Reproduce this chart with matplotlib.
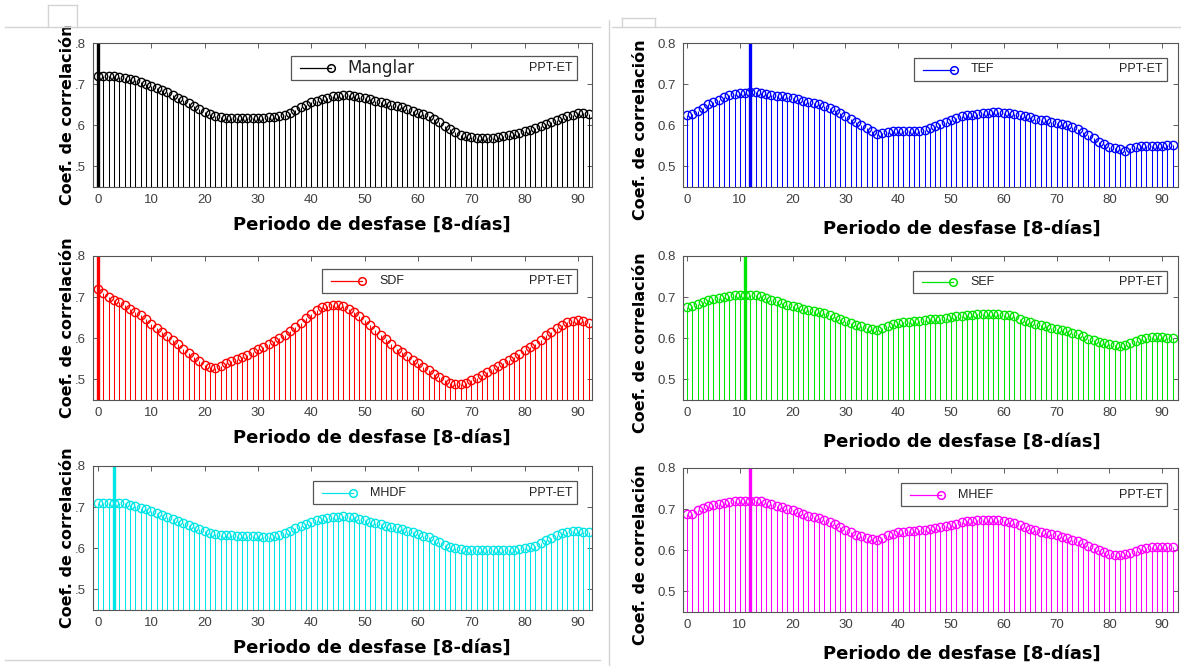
import numpy as np
import matplotlib
matplotlib.use("Agg")
import matplotlib.pyplot as plt
from matplotlib.lines import Line2D
from matplotlib.patches import Rectangle

# cross-correlation PPT-ET per land cover, lag in 8-day periods
lags = list(range(93))

manglar = [0.721, 0.721, 0.720, 0.719, 0.718, 0.715, 0.712, 0.709, 0.706, 0.701,
           0.696, 0.691, 0.686, 0.680, 0.673, 0.667, 0.661, 0.655, 0.648, 0.640,
           0.633, 0.627, 0.622, 0.619, 0.618, 0.618, 0.618, 0.618, 0.618, 0.618,
           0.618, 0.618, 0.619, 0.620, 0.622, 0.626, 0.630, 0.637, 0.644, 0.650,
           0.656, 0.660, 0.664, 0.667, 0.670, 0.672, 0.673, 0.673, 0.672, 0.669,
           0.666, 0.663, 0.660, 0.656, 0.653, 0.650, 0.648, 0.644, 0.640, 0.635,
           0.631, 0.627, 0.622, 0.615, 0.607, 0.599, 0.591, 0.584, 0.577, 0.573,
           0.571, 0.570, 0.570, 0.570, 0.569, 0.572, 0.575, 0.577, 0.579, 0.582,
           0.585, 0.589, 0.593, 0.598, 0.603, 0.608, 0.613, 0.618, 0.622, 0.626,
           0.630, 0.631, 0.627]

sdf = [0.719, 0.710, 0.701, 0.694, 0.688, 0.680, 0.672, 0.664, 0.656, 0.646,
       0.635, 0.625, 0.615, 0.605, 0.595, 0.585, 0.575, 0.565, 0.555, 0.545,
       0.536, 0.529, 0.527, 0.532, 0.539, 0.544, 0.549, 0.555, 0.560, 0.567,
       0.573, 0.580, 0.587, 0.594, 0.601, 0.609, 0.617, 0.627, 0.638, 0.649,
       0.660, 0.669, 0.676, 0.679, 0.680, 0.680, 0.678, 0.672, 0.665, 0.655,
       0.644, 0.632, 0.619, 0.608, 0.598, 0.586, 0.575, 0.566, 0.557, 0.548,
       0.539, 0.531, 0.523, 0.514, 0.506, 0.498, 0.492, 0.488, 0.488, 0.492,
       0.498, 0.504, 0.510, 0.518, 0.525, 0.532, 0.539, 0.547, 0.555, 0.563,
       0.571, 0.579, 0.587, 0.597, 0.607, 0.616, 0.625, 0.633, 0.640, 0.643,
       0.645, 0.642, 0.636]

mhdf = [0.709, 0.710, 0.710, 0.711, 0.711, 0.709, 0.706, 0.703, 0.699, 0.695,
        0.691, 0.686, 0.681, 0.676, 0.671, 0.666, 0.661, 0.656, 0.651, 0.646,
        0.641, 0.637, 0.635, 0.633, 0.632, 0.632, 0.631, 0.631, 0.631, 0.630,
        0.629, 0.628, 0.628, 0.629, 0.632, 0.637, 0.643, 0.649, 0.655, 0.660,
        0.665, 0.668, 0.671, 0.673, 0.675, 0.677, 0.679, 0.677, 0.675, 0.672,
        0.669, 0.665, 0.661, 0.658, 0.655, 0.652, 0.649, 0.646, 0.643, 0.639,
        0.635, 0.631, 0.627, 0.621, 0.615, 0.609, 0.604, 0.600, 0.598, 0.597,
        0.597, 0.596, 0.596, 0.596, 0.596, 0.596, 0.596, 0.596, 0.597, 0.598,
        0.600, 0.603, 0.606, 0.612, 0.619, 0.626, 0.632, 0.637, 0.640, 0.641,
        0.641, 0.640, 0.639]

tef = [0.624, 0.627, 0.634, 0.643, 0.651, 0.656, 0.662, 0.668, 0.673, 0.676,
       0.678, 0.679, 0.680, 0.680, 0.678, 0.676, 0.674, 0.672, 0.670, 0.668,
       0.666, 0.663, 0.660, 0.657, 0.654, 0.651, 0.647, 0.642, 0.636, 0.629,
       0.622, 0.615, 0.608, 0.601, 0.594, 0.585, 0.578, 0.582, 0.584, 0.585,
       0.586, 0.586, 0.586, 0.586, 0.586, 0.589, 0.593, 0.598, 0.603, 0.609,
       0.614, 0.618, 0.622, 0.624, 0.626, 0.628, 0.630, 0.631, 0.632, 0.632,
       0.631, 0.630, 0.628, 0.625, 0.622, 0.619, 0.616, 0.614, 0.612, 0.609,
       0.606, 0.603, 0.600, 0.595, 0.590, 0.583, 0.576, 0.568, 0.560, 0.554,
       0.548, 0.545, 0.542, 0.538, 0.544, 0.547, 0.549, 0.550, 0.550, 0.550,
       0.550, 0.551, 0.553]

sef = [0.676, 0.678, 0.683, 0.688, 0.692, 0.695, 0.698, 0.700, 0.702, 0.704,
       0.706, 0.706, 0.705, 0.704, 0.702, 0.698, 0.694, 0.690, 0.686, 0.682,
       0.678, 0.675, 0.672, 0.669, 0.666, 0.664, 0.661, 0.657, 0.652, 0.647,
       0.642, 0.637, 0.632, 0.629, 0.626, 0.623, 0.621, 0.626, 0.630, 0.634,
       0.637, 0.639, 0.640, 0.641, 0.642, 0.644, 0.646, 0.647, 0.648, 0.650,
       0.652, 0.653, 0.654, 0.656, 0.657, 0.658, 0.658, 0.658, 0.658, 0.658,
       0.657, 0.656, 0.653, 0.648, 0.643, 0.639, 0.635, 0.632, 0.629, 0.626,
       0.623, 0.620, 0.617, 0.614, 0.611, 0.605, 0.599, 0.595, 0.591, 0.588,
       0.585, 0.583, 0.582, 0.584, 0.589, 0.594, 0.598, 0.600, 0.602, 0.602,
       0.602, 0.601, 0.600]

mhef = [0.687, 0.689, 0.697, 0.702, 0.707, 0.710, 0.713, 0.715, 0.717, 0.719,
        0.721, 0.721, 0.721, 0.720, 0.719, 0.716, 0.713, 0.708, 0.704, 0.700,
        0.697, 0.692, 0.688, 0.684, 0.681, 0.678, 0.674, 0.669, 0.664, 0.657,
        0.650, 0.644, 0.638, 0.634, 0.630, 0.627, 0.626, 0.631, 0.636, 0.640,
        0.644, 0.645, 0.646, 0.648, 0.649, 0.650, 0.652, 0.655, 0.657, 0.660,
        0.662, 0.665, 0.668, 0.670, 0.672, 0.673, 0.673, 0.673, 0.673, 0.673,
        0.672, 0.669, 0.666, 0.661, 0.656, 0.652, 0.649, 0.645, 0.642, 0.639,
        0.636, 0.633, 0.630, 0.626, 0.622, 0.617, 0.611, 0.605, 0.600, 0.595,
        0.591, 0.589, 0.588, 0.590, 0.594, 0.598, 0.602, 0.605, 0.607, 0.608,
        0.608, 0.608, 0.607]

names     = ["Manglar", "SDF", "MHDF", "TEF", "SEF", "MHEF"]
series    = [manglar, sdf, mhdf, tef, sef, mhef]
peak_lags = [0, 0, 3, 12, 11, 12]
colors    = ["#000000", "#ff0000", "#00e6e6", "#0000ff", "#00e600", "#ff00ff"]

xticks = [0, 10, 20, 30, 40, 50, 60, 70, 80, 90]
yticks = [0.5, 0.6, 0.7, 0.8]
ytick_labels_left  = [".5", ".6", ".7", ".8"]
ytick_labels_right = ["0.5", "0.6", "0.7", "0.8"]

legend_tag = "PPT-ET"
xlabel = "Periodo de desfase [8-días]"
ylabel = "Coef. de correlación"

W, H = 1181, 666

# panel boxes in pixels: left, top, right, bottom
axes_px = [(93, 43, 592, 187), (93, 256, 592, 400), (93, 466, 592, 610),
           (683, 43, 1178, 187), (683, 256, 1178, 400), (683, 468, 1178, 612)]
legend_px = [(291, 56, 577, 80), (322, 269, 577, 293), (313, 481, 577, 504),
             (914, 58, 1167, 81), (913, 271, 1167, 293), (901, 483, 1167, 506)]


def fx(x):
  return x / W


def fy(y):
  return 1.0 - y / H


def add_legend(fig, box, name, color, big=False):
  l, t, r, b = box
  fig.add_artist(Rectangle((fx(l), fy(b)), fx(r) - fx(l), fy(t) - fy(b),
                           transform=fig.transFigure, facecolor="white",
                           edgecolor="#555555", linewidth=0.9, zorder=5))
  yc = fy((t + b) / 2.0)
  fig.add_artist(Line2D([fx(l + 9), fx(l + 40)], [yc, yc], color=color,
                        linewidth=0.9, transform=fig.transFigure, zorder=6))
  fig.add_artist(Line2D([fx(l + 40)], [yc], marker="o", markersize=5.5,
                        markerfacecolor="none", markeredgecolor=color,
                        markeredgewidth=1.1, transform=fig.transFigure, zorder=6))
  if big:
    fig.text(fx(l + 56), yc, name, fontsize=12, family="DejaVu Sans",
             va="center", ha="left", color="#222222", zorder=7)
  else:
    fig.text(fx(l + 57), yc, name, fontsize=9, family="Liberation Sans",
             va="center", ha="left", color="#222222", zorder=7)
  fig.text(fx(r - 5), yc, legend_tag, fontsize=9, family="Liberation Sans",
           va="center", ha="right", color="#222222", zorder=7)


fig = plt.figure(figsize=(W / 100.0, H / 100.0), dpi=100)
fig.patch.set_facecolor("white")

for i in range(6):
  l, t, r, b = axes_px[i]
  ax = fig.add_axes([fx(l), fy(b), fx(r) - fx(l), fy(t) - fy(b)])
  color = colors[i]
  left_col = i < 3

  markerline, stemlines, baseline = ax.stem(lags, series[i], bottom=0, basefmt=" ")
  stemlines.set_color(color)
  stemlines.set_linewidth(0.75)
  markerline.set_marker("o")
  markerline.set_markersize(6)
  markerline.set_markerfacecolor("none")
  markerline.set_markeredgecolor(color)
  markerline.set_markeredgewidth(1.0)
  markerline.set_linestyle("none")

  # lag of the strongest correlation
  ax.axvline(peak_lags[i], color=color, linewidth=2.4)

  ax.set_ylim(0.45, 0.8)
  if left_col:
    ax.set_xlim(-0.94, 92.6)
    ax.set_yticks(yticks, labels=ytick_labels_left)
  else:
    ax.set_xlim(-0.76, 93.0)
    ax.set_yticks(yticks, labels=ytick_labels_right)
  ax.set_xticks(xticks)

  ax.tick_params(direction="in", top=True, right=True, length=3.5, width=0.6,
                 color="#444444", labelsize=9.5, labelcolor="#404040", pad=5)
  for lab in ax.get_xticklabels() + ax.get_yticklabels():
    lab.set_family("Liberation Sans")
  for sp in ax.spines.values():
    sp.set_color("#555555")
    sp.set_linewidth(0.8)

  ax.set_xlabel(xlabel, fontsize=13, fontweight="bold", family="DejaVu Sans")
  ax.set_ylabel(ylabel, fontsize=11.5, fontweight="bold", family="DejaVu Sans")
  if left_col:
    ax.xaxis.set_label_coords(0.559, -0.2)
    ax.yaxis.set_label_coords(-0.036, 0.5)
  else:
    ax.xaxis.set_label_coords(0.564, -0.23)
    ax.yaxis.set_label_coords(-0.07, 0.4)

  add_legend(fig, legend_px[i], names[i], color, big=(i == 0))

# frame lines around the two columns
frame = "#d4d4d4"
for xs, ys in [([5, 600], [27, 27]), ([612, 1181], [27, 27]),
               ([48, 48], [5, 27]), ([77, 77], [5, 27]), ([48, 77], [5, 5]),
               ([622, 622], [18, 27]), ([655, 655], [18, 27]), ([622, 655], [18, 18]),
               ([609, 609], [20, 666]), ([5, 600], [660, 660])]:
  fig.add_artist(Line2D([fx(v) for v in xs], [fy(v) for v in ys], color=frame,
                        linewidth=1.0, transform=fig.transFigure))

fig.savefig("out.png", dpi=100)
